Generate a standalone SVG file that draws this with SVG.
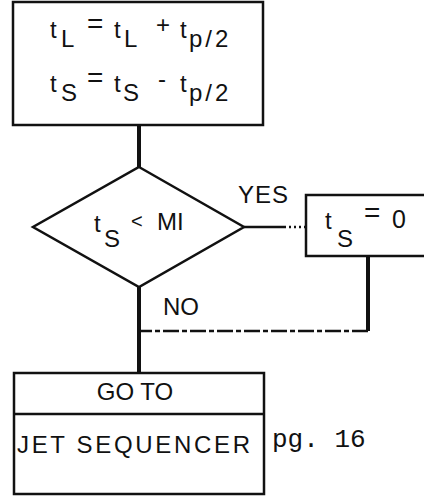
<svg xmlns="http://www.w3.org/2000/svg" width="424" height="496" viewBox="0 0 424 496">
<style>
.box{fill:none;stroke:#111;stroke-width:2.5}
.txt{font-family:"Liberation Sans",Arial,sans-serif;font-size:24px;fill:#111}
.main{stroke:#111;stroke-width:4;fill:none}
.thin{stroke:#111;stroke-width:2.5;fill:none}
</style>
<rect width="424" height="496" fill="#fff"/>
<g id="connectors">
<line class="main" x1="139" y1="125" x2="139" y2="167"/>
<line class="main" x1="139" y1="287" x2="139" y2="373"/>
<line class="thin" x1="244" y1="227" x2="306" y2="227" stroke-dasharray="42 3 2 3 2 3 2 3"/>
<line class="main" x1="368" y1="256" x2="368" y2="331"/>
<line class="thin" x1="368" y1="331" x2="139" y2="331" stroke-dasharray="16 3 5 3"/>
<text class="txt" x="238" y="203" font-size="25" letter-spacing="1">YES</text>
<text class="txt" x="163" y="315" font-size="24">NO</text>
</g>
<g id="n1">
<rect class="box" x="13" y="2" width="250" height="123"/>
<text class="txt"><tspan x="50" y="38">t</tspan><tspan x="61" y="47">L</tspan><tspan x="87" y="33" font-size="28">=</tspan><tspan x="114" y="38">t</tspan><tspan x="124" y="47">L</tspan><tspan x="156" y="33">+</tspan><tspan x="180" y="38">t</tspan><tspan x="189" y="47" letter-spacing="3">p/2</tspan></text>
<text class="txt"><tspan x="50" y="92">t</tspan><tspan x="61" y="101">S</tspan><tspan x="87" y="87" font-size="28">=</tspan><tspan x="114" y="92">t</tspan><tspan x="123" y="101">S</tspan><tspan x="158" y="87">-</tspan><tspan x="180" y="92">t</tspan><tspan x="189" y="101" letter-spacing="3">p/2</tspan></text>
</g>
<g id="n2">
<polygon class="thin" stroke-width="3" points="139,167 244,227 139,287 33,227"/>
<text class="txt"><tspan x="94" y="232">t</tspan><tspan x="104" y="247">S</tspan><tspan x="131" y="228" font-size="20">&lt;</tspan><tspan x="157" y="230">MI</tspan></text>
</g>
<g id="n3">
<polyline class="box" points="430,195 306,195 306,256 430,256"/>
<text class="txt"><tspan x="325" y="229">t</tspan><tspan x="337" y="247">S</tspan><tspan x="364" y="222" font-size="28">=</tspan><tspan x="392" y="228" font-size="25">0</tspan></text>
</g>
<g id="n4">
<rect class="box" x="14" y="373" width="250" height="121"/>
<line class="box" x1="14" y1="414" x2="264" y2="414"/>
<text class="txt" x="135" y="400" text-anchor="middle">GO TO</text>
<text class="txt" x="17" y="453" textLength="233" lengthAdjust="spacing">JET SEQUENCER</text>
</g>
<text x="272" y="447" font-family="Liberation Mono,Courier New,monospace" font-size="26" fill="#111">pg. 16</text>
</svg>
